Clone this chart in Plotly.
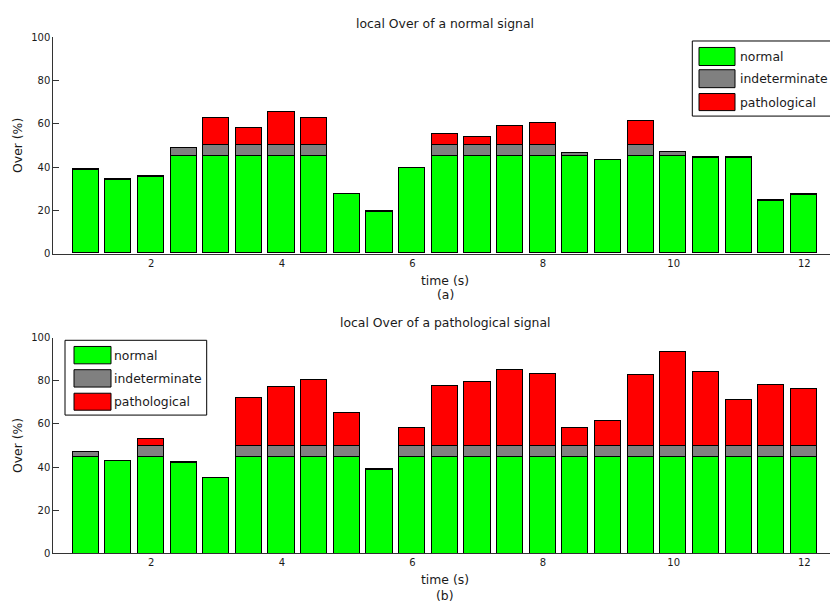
import plotly.graph_objects as go

# --- data -------------------------------------------------------------
time_s = [1.0, 1.5, 2.0, 2.5, 3.0, 3.5, 4.0, 4.5, 5.0, 5.5, 6.0, 6.5,
          7.0, 7.5, 8.0, 8.5, 9.0, 9.5, 10.0, 10.5, 11.0, 11.5, 12.0]

# (a) normal signal
normal_a = [38.6, 33.8, 35.2, 45.0, 45.0, 45.0, 45.0, 45.0, 27.2, 19.1, 39.3, 45.0,
            45.0, 45.0, 45.0, 45.0, 42.9, 45.0, 45.0, 44.2, 44.2, 24.2, 27.0]
indet_a = [0.3, 0.3, 0.3, 3.6, 5.0, 5.0, 5.0, 5.0, 0.2, 0.3, 0.2, 5.0,
           5.0, 5.0, 5.0, 1.2, 0.3, 5.0, 1.8, 0.2, 0.2, 0.3, 0.3]
patho_a = [0.0, 0.0, 0.0, 0.0, 12.3, 7.7, 15.3, 12.3, 0.0, 0.0, 0.0, 5.2,
           3.6, 8.9, 10.3, 0.0, 0.0, 11.1, 0.0, 0.0, 0.0, 0.0, 0.0]

# (b) pathological signal
normal_b = [45.0, 42.8, 45.0, 42.0, 35.0, 45.0, 45.0, 45.0, 45.0, 38.9, 45.0, 45.0,
            45.0, 45.0, 45.0, 45.0, 45.0, 45.0, 45.0, 45.0, 45.0, 45.0, 45.0]
indet_b = [2.1, 0.2, 5.0, 0.3, 0.0, 5.0, 5.0, 5.0, 5.0, 0.3, 5.0, 5.0,
           5.0, 5.0, 5.0, 5.0, 5.0, 5.0, 5.0, 5.0, 5.0, 5.0, 5.0]
patho_b = [0.0, 0.0, 3.2, 0.0, 0.0, 22.1, 27.1, 30.3, 15.2, 0.0, 8.2, 27.7,
           29.4, 35.3, 33.3, 8.5, 11.5, 33.0, 43.5, 34.4, 21.4, 28.0, 26.4]

classes = ["normal", "indeterminate", "pathological"]
colors = ["#00FF00", "#808080", "#FF0000"]
x_ticks = [2, 4, 6, 8, 10, 12]
y_ticks = [0, 20, 40, 60, 80, 100]

# --- geometry (pixels) -------------------------------------------------
W, H = 830, 610
FONT = "DejaVu Sans, Verdana, sans-serif"
TXT = "#1a1a1a"
AX = "#333333"
LABEL_SIZE = 12.4
TICK_SIZE = 10


def px(x):
    return x / W


def py(y):
    return 1 - y / H


left_px = 53.3
x_scale = 65.3  # pixels per second
x_right = 0.5 + (W - left_px) / x_scale

panels = [
    dict(top=32.0, bottom=252.5, series=[normal_a, indet_a, patho_a],
         title="local Over of a normal signal", tag="(a)", title_y=17.5,
         xlab_y=279.5, tag_y=294.5),
    dict(top=338.3, bottom=558.3, series=[normal_b, indet_b, patho_b],
         title="local Over of a pathological signal", tag="(b)", title_y=323,
         xlab_y=584.5, tag_y=601.5),
]

fig = go.Figure()
annotations = []
shapes = []

for i, p in enumerate(panels):
    n = i + 1
    xa = "x" if n == 1 else f"x{n}"
    ya = "y" if n == 1 else f"y{n}"
    for name, col, vals in zip(classes, colors, p["series"]):
        fig.add_trace(go.Bar(
            x=time_s, y=vals, name=name, xaxis=xa, yaxis=ya, width=0.4,
            marker=dict(color=col, line=dict(color="black", width=1)),
            showlegend=False,
        ))
    axis_x = dict(domain=[px(left_px), 1], range=[0.5, x_right], anchor=ya,
                  tickmode="array", tickvals=x_ticks, ticks="", showline=True,
                  linecolor=AX, linewidth=1, showgrid=False, zeroline=False,
                  tickfont=dict(family=FONT, size=TICK_SIZE, color=TXT))
    axis_y = dict(domain=[py(p["bottom"]), py(p["top"])], range=[0, 100], anchor=xa,
                  tickmode="array", tickvals=y_ticks, ticks="inside", ticklen=6,
                  tickcolor=AX, showline=True, linecolor=AX, linewidth=1,
                  showgrid=False, zeroline=False,
                  tickfont=dict(family=FONT, size=TICK_SIZE, color=TXT))
    fig.layout["xaxis" if n == 1 else f"xaxis{n}"] = axis_x
    fig.layout["yaxis" if n == 1 else f"yaxis{n}"] = axis_y

    cx = px(445)
    for text, y in [(p["title"], p["title_y"]), ("time (s)", p["xlab_y"]),
                    (p["tag"], p["tag_y"])]:
        annotations.append(dict(text=text, x=cx, y=py(y), xref="paper", yref="paper",
                                showarrow=False, xanchor="center", yanchor="middle",
                                font=dict(family=FONT, size=LABEL_SIZE, color=TXT)))
    annotations.append(dict(text="Over (%)", x=px(17.5), y=py((p["top"] + p["bottom"]) / 2),
                            xref="paper", yref="paper", showarrow=False, textangle=-90,
                            xanchor="center", yanchor="middle",
                            font=dict(family=FONT, size=LABEL_SIZE, color=TXT)))

# --- legends drawn as boxed patches -----------------------------------
legends = [
    dict(box=(692.3, 35.7, 836.0, 112.3), patch_x=(699, 735),
         rows=[(42.3, 60.7), (65.0, 83.3), (89.3, 106.7)], text_x=737.5),
    dict(box=(65.0, 341.0, 206.7, 417.3), patch_x=(74, 111),
         rows=[(347.3, 365.0), (371.0, 388.7), (395.0, 412.3)], text_x=111.5),
]
for lg in legends:
    x0, y0, x1, y1 = lg["box"]
    shapes.append(dict(type="rect", xref="paper", yref="paper",
                       x0=px(x0), x1=px(x1), y0=py(y1), y1=py(y0),
                       line=dict(color="black", width=1), fillcolor="white", layer="above"))
    for name, col, (ry0, ry1) in zip(classes, colors, lg["rows"]):
        shapes.append(dict(type="rect", xref="paper", yref="paper",
                           x0=px(lg["patch_x"][0]), x1=px(lg["patch_x"][1]),
                           y0=py(ry1), y1=py(ry0),
                           line=dict(color="black", width=1), fillcolor=col, layer="above"))
        annotations.append(dict(text=name, x=px(lg["text_x"]), y=py((ry0 + ry1) / 2),
                                xref="paper", yref="paper", showarrow=False,
                                xanchor="left", yanchor="middle",
                                font=dict(family=FONT, size=LABEL_SIZE, color=TXT)))

fig.update_layout(
    width=W, height=H, margin=dict(l=0, r=0, t=0, b=0),
    paper_bgcolor="white", plot_bgcolor="white",
    barmode="stack", bargap=0, showlegend=False,
    annotations=annotations, shapes=shapes,
)

fig.write_html("out.html")
